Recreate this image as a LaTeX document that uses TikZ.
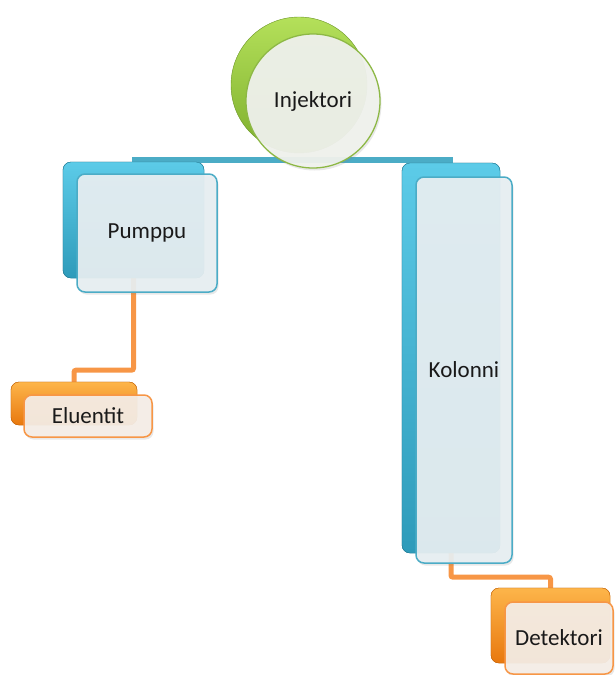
\documentclass[tikz,border=0pt]{standalone}
\usepackage{fontspec}
\setmainfont{Carlito}
\usetikzlibrary{shadows,calc}
\definecolor{bluec}{HTML}{4BACC6}
\definecolor{bluetop}{HTML}{5CCBE8}
\definecolor{bluebot}{HTML}{2E9BBA}
\definecolor{orc}{HTML}{F79646}
\definecolor{ortop}{HTML}{FDB54A}
\definecolor{orbot}{HTML}{E8780E}
\definecolor{grc}{HTML}{8DB845}
\definecolor{grtop}{HTML}{B4E05A}
\definecolor{grbot}{HTML}{7DAE2C}
\definecolor{bluefr}{HTML}{E8EFF2}
\definecolor{orfr}{HTML}{F5EEE7}
\definecolor{grfr}{HTML}{EFF1EC}
\tikzset{
  backbox/.style={rectangle, rounded corners=8pt, inner sep=0pt},
  bluebk/.style={backbox, top color=bluetop, bottom color=bluebot, draw=bluebot!80!black, line width=0.4pt},
  orbk/.style={backbox, top color=ortop, bottom color=orbot, draw=orbot!85!black, line width=0.4pt},
  frontbox/.style={rectangle, rounded corners=8pt, inner sep=0pt, line width=1.5pt, fill opacity=0.93, text opacity=1,
    drop shadow={opacity=0.18, shadow xshift=1.5pt, shadow yshift=-2.5pt}},
  bluefront/.style={frontbox, draw=bluec, fill=bluefr},
  orfront/.style={frontbox, draw=orc, fill=orfr},
  lbl/.style={font=\fontsize{23}{28}\selectfont, text=black!90},
  bline/.style={draw=bluec, line width=5.5pt},
  oline/.style={draw=orc, line width=5pt, rounded corners=2pt},
}
\begin{document}
\begin{tikzpicture}[x=1pt,y=-1pt]
\useasboundingbox (0,0) rectangle (615,675);
% back boxes (positions)
\node[bluebk, minimum width=141pt, minimum height=116pt] (pumpb) at (133.5,220) {};
\node[orbk, minimum width=126pt, minimum height=43pt] (elub) at (74,403.5) {};
\node[bluebk, minimum width=98pt, minimum height=390pt] (kolb) at (451,358) {};
\node[orbk, minimum width=119pt, minimum height=75pt] (detb) at (550.5,625.5) {};
% connectors
\coordinate (bl) at ($(pumpb.north)+(-1.5,-2)$);
\coordinate (br) at ($(kolb.north)+(2,-3)$);
\draw[bline] (bl) -- (br);
\draw[oline] (pumpb.south) -- ++(0,92) -| (elub.north);
\draw[oline] (kolb.south) -- ++(0,24) -| (detb.north);
% redraw back boxes over connector ends
\node[bluebk, minimum width=141pt, minimum height=116pt] at (pumpb) {};
\node[orbk, minimum width=126pt, minimum height=43pt] at (elub) {};
\node[bluebk, minimum width=98pt, minimum height=390pt] at (kolb) {};
\node[orbk, minimum width=119pt, minimum height=75pt] at (detb) {};
% injektori
\node[circle, minimum size=136pt, inner sep=0pt, top color=grtop, bottom color=grbot, draw=grbot!85!black, line width=0.4pt] (injb) at (299,85) {};
\node[circle, minimum size=134pt, inner sep=0pt, draw=grc, line width=1.3pt, fill=grfr, fill opacity=0.95, text opacity=1,
  drop shadow={opacity=0.18, shadow xshift=1.5pt, shadow yshift=-2.5pt}, lbl] (inj) at (313,101) {Injektori};
% front boxes
\node[bluefront, minimum width=140pt, minimum height=118pt, lbl] (pump) at (147,233) {Pumppu};
\node[orfront, minimum width=128pt, minimum height=42pt, lbl] (elu) at (88,416) {Eluentit};
\node[bluefront, minimum width=96pt, minimum height=386pt, lbl] (kol) at (464,370) {Kolonni};
\node[orfront, minimum width=108pt, minimum height=72pt, lbl] (det) at (559,638) {Detektori};
\end{tikzpicture}
\end{document}
